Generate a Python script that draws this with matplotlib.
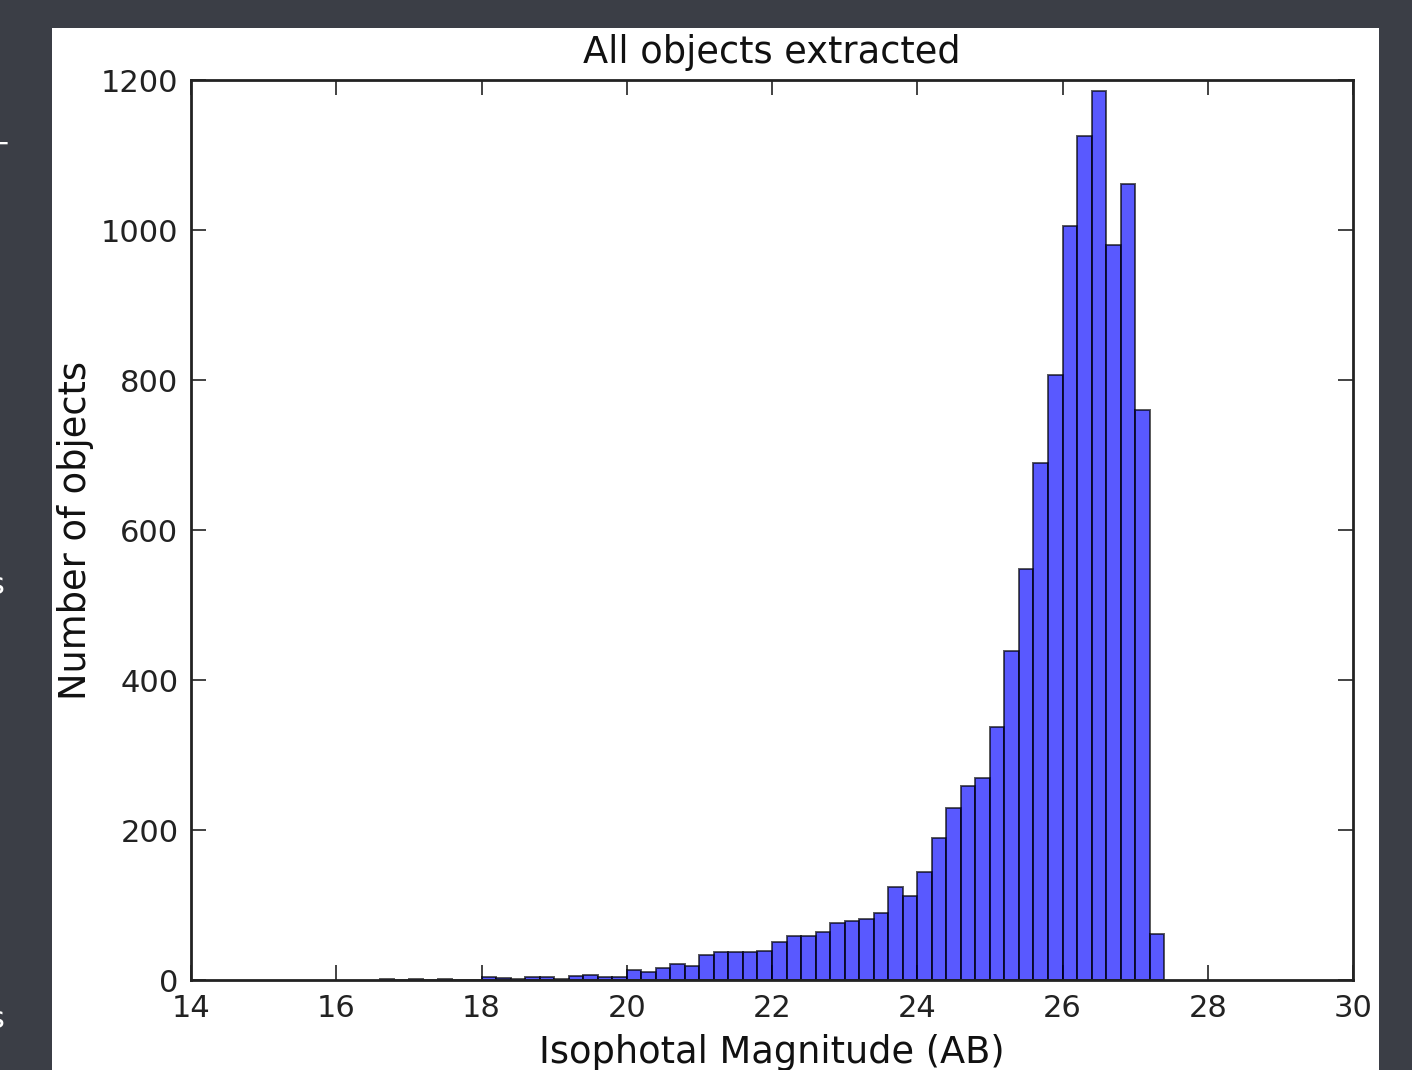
import numpy as np
import matplotlib
matplotlib.use("Agg")
import matplotlib.pyplot as plt
from matplotlib.patches import Rectangle

# ---- data ----
bin_left = [16.6, 16.8, 17.0, 17.2, 17.4, 17.6, 17.8,
            18.0, 18.2, 18.4, 18.6, 18.8, 19.0, 19.2, 19.4, 19.6, 19.8,
            20.0, 20.2, 20.4, 20.6, 20.8, 21.0, 21.2, 21.4, 21.6, 21.8,
            22.0, 22.2, 22.4, 22.6, 22.8, 23.0, 23.2, 23.4, 23.6, 23.8,
            24.0, 24.2, 24.4, 24.6, 24.8, 25.0, 25.2, 25.4, 25.6, 25.8,
            26.0, 26.2, 26.4, 26.6, 26.8, 27.0, 27.2]
counts = [2, 0, 2, 0, 2, 0, 0,
          4, 3, 1, 4, 4, 2, 5, 7, 4, 4,
          14, 11, 16, 22, 19, 34, 37, 37, 37, 39,
          51, 59, 59, 64, 76, 79, 81, 89, 124, 112,
          144, 190, 229, 259, 269, 337, 439, 548, 690, 807,
          1005, 1125, 1185, 980, 1061, 760, 62]
bin_width = 0.2
x_ticks = [14, 16, 18, 20, 22, 24, 26, 28, 30]
y_ticks = [0, 200, 400, 600, 800, 1000, 1200]
title = "All objects extracted"
xlabel = "Isophotal Magnitude (AB)"
ylabel = "Number of objects"

W, H = 1412, 1070
fig = plt.figure(figsize=(W / 100, H / 100), dpi=100)
fig.patch.set_facecolor("#3b3e46")

# white slide panel behind the chart
fig.patches.append(Rectangle((52 / W, 0), (1379 - 52) / W, (H - 28) / H,
                             transform=fig.transFigure, facecolor="white",
                             edgecolor="none", zorder=-10))

# cut-off slide text fragments at the left edge
for yy, s in [(155, "T"), (585, "s"), (1020, "s")]:
    fig.text(-12 / W, 1 - yy / H, s, color="white", fontsize=22,
             ha="left", va="center")

ax = fig.add_axes([191 / W, (H - 980) / H, (1353 - 191) / W, 900 / H])
ax.set_facecolor("white")
ax.bar(bin_left, counts, width=bin_width, align="edge",
       color="blue", edgecolor="black", linewidth=1.4, alpha=0.65, zorder=2)

ax.set_xlim(14, 30)
ax.set_ylim(0, 1200)
ax.set_xticks(x_ticks)
ax.set_yticks(y_ticks)
ax.tick_params(direction="in", length=11, width=1.2, top=True, right=True,
               labelsize=22, colors="#222222")
ax.tick_params(axis="x", pad=10)
ax.tick_params(axis="y", pad=9)
for sp in ax.spines.values():
    sp.set_linewidth(2)
    sp.set_color("#222222")
    sp.set_zorder(3)

ax.set_title(title, fontsize=26.5, pad=12, color="#111111")
ax.set_xlabel(xlabel, fontsize=26.5, labelpad=8, color="#111111")
ax.set_ylabel(ylabel, fontsize=26.5, labelpad=5, color="#111111")

fig.savefig("out.png", dpi=100, facecolor=fig.get_facecolor())
